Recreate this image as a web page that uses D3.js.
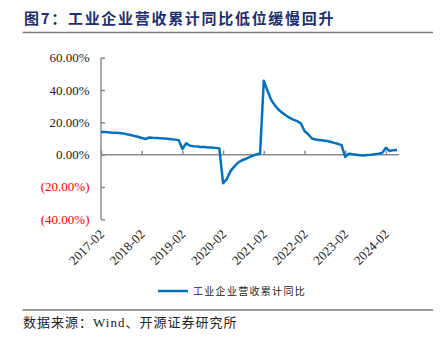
<!DOCTYPE html>
<html>
<head>
<meta charset="utf-8">
<script src="https://cdn.jsdelivr.net/npm/d3@7"></script>
<style>
  html, body { margin: 0; padding: 0; background: #fff; }
  svg { display: block; }
</style>
</head>
<body>
<svg id="chart" width="445" height="348"></svg>
<script>
// Monthly cumulative data (Jan is merged into Feb), 2017-02 .. 2024-05
const years = [2017, 2018, 2019, 2020, 2021, 2022, 2023, 2024];
const months = ["02", "03", "04", "05", "06", "07", "08", "09", "10", "11", "12"];

// 工业企业营收累计同比 (%)
const revenueYoY = [
  // 2017
  14.0, 14.1, 13.8, 13.6, 13.6, 13.4, 13.1, 12.6, 12.2, 11.6, 11.1,
  // 2018
  10.3, 9.7, 10.6, 10.4, 10.3, 10.2, 10.0, 9.8, 9.6, 9.3, 9.0,
  // 2019
  3.5, 7.0, 5.6, 5.2, 5.0, 4.8, 4.7, 4.5, 4.4, 4.2, 3.8,
  // 2020
  -17.7, -15.1, -10.2, -7.4, -5.0, -3.6, -2.7, -1.7, -0.6, 0.1, 0.8,
  // 2021
  45.8, 39.5, 33.9, 30.5, 27.8, 25.9, 24.2, 22.8, 21.7, 20.8, 19.4,
  // 2022
  14.6, 12.6, 10.0, 9.4, 9.1, 8.8, 8.4, 8.0, 7.3, 6.7, 5.9,
  // 2023
  -1.3, 0.6, 0.2, -0.1, -0.4, -0.5, -0.2, 0.0, 0.3, 0.6, 1.1,
  // 2024
  4.3, 2.3, 2.8, 2.9
];

const categories = [];
years.forEach(y => months.forEach(m => categories.push(`${y}-${m}`)));
categories.length = revenueYoY.length;

const tickLabels = ["2017-02", "2018-02", "2019-02", "2020-02", "2021-02", "2022-02", "2023-02", "2024-02"];
const yTicks = [60, 40, 20, 0, -20, -40];

const title = "图7：工业企业营收累计同比低位缓慢回升";
const seriesName = "工业企业营收累计同比";
const sourceParts = ["数据来源：", "Wind", "、开源证券研究所"];

const svg = d3.select("#chart");
const serif = "'Liberation Serif', 'Times New Roman', serif";
const cjk = "'Noto Sans CJK SC', sans-serif";
const axisColor = "#8c8c8c";

// Header
svg.append("text")
  .attr("x", 24).attr("y", 24)
  .attr("font-family", cjk).attr("font-weight", "bold")
  .attr("font-size", 15).attr("letter-spacing", 1.7)
  .attr("fill", "#1f2f6b")
  .text(title);
svg.append("line")
  .attr("x1", 22.5).attr("x2", 433).attr("y1", 32.5).attr("y2", 32.5)
  .attr("stroke", "#7a7a7a").attr("stroke-width", 1.5);

// Scales
const x = d3.scalePoint().domain(categories).range([101, 397]);
const y = d3.scaleLinear().domain([-40, 60]).range([219.3, 57.7]);

// Y axis (ticks pointing into the plot)
const yAxis = svg.append("g").attr("transform", "translate(101,0)")
  .call(d3.axisRight(y).tickValues(yTicks).tickSize(4).tickFormat(""));
yAxis.select(".domain").attr("d", `M0,${y(60)}V${y(-40)}`);
yAxis.selectAll("path, line").attr("stroke", axisColor).attr("stroke-width", 1.5);

// Y tick labels
svg.append("g").selectAll("text").data(yTicks).join("text")
  .attr("x", 89.5).attr("y", d => y(d) + 4.5)
  .attr("text-anchor", "end")
  .attr("font-family", serif).attr("font-size", 13)
  .attr("fill", d => d < 0 ? "#ff0000" : "#222")
  .text(d => d < 0 ? `(${Math.abs(d).toFixed(2)}%)` : `${d.toFixed(2)}%`);

// Category axis along zero
const xAxis = svg.append("g").attr("transform", `translate(0,${y(0)})`)
  .call(d3.axisTop(x).tickValues(tickLabels).tickSize(4).tickFormat(""));
xAxis.select(".domain").attr("d", "M101,0H399");
xAxis.selectAll("path, line").attr("stroke", axisColor).attr("stroke-width", 1.5);

// Rotated category labels under the plot
svg.append("g").selectAll("text").data(tickLabels).join("text")
  .attr("transform", d => `translate(${x(d) + 4},${235}) rotate(-45)`)
  .attr("text-anchor", "end")
  .attr("font-family", serif).attr("font-size", 13)
  .attr("fill", "#222")
  .text(d => d);

// Series line
const line = d3.line()
  .x((d, i) => x(categories[i]))
  .y(d => y(d));
svg.append("path")
  .datum(revenueYoY)
  .attr("d", line)
  .attr("fill", "none")
  .attr("stroke", "#0070c0")
  .attr("stroke-width", 2.5)
  .attr("stroke-linejoin", "round");

// Legend
svg.append("line")
  .attr("x1", 158).attr("x2", 188).attr("y1", 291).attr("y2", 291)
  .attr("stroke", "#0070c0").attr("stroke-width", 2.5);
svg.append("text")
  .attr("x", 193).attr("y", 295)
  .attr("font-family", cjk).attr("font-size", 10).attr("letter-spacing", 1.3)
  .attr("fill", "#222")
  .text(seriesName);

// Footer
svg.append("line")
  .attr("x1", 22.5).attr("x2", 433).attr("y1", 310).attr("y2", 310)
  .attr("stroke", "#7a7a7a").attr("stroke-width", 1.5);
svg.append("text")
  .attr("x", 23).attr("y", 327)
  .attr("font-size", 13).attr("letter-spacing", 1)
  .attr("fill", "#222")
  .selectAll("tspan").data(sourceParts).join("tspan")
  .attr("font-family", d => /^[A-Za-z]+$/.test(d) ? serif : cjk)
  .text(d => d);
</script>
</body>
</html>
